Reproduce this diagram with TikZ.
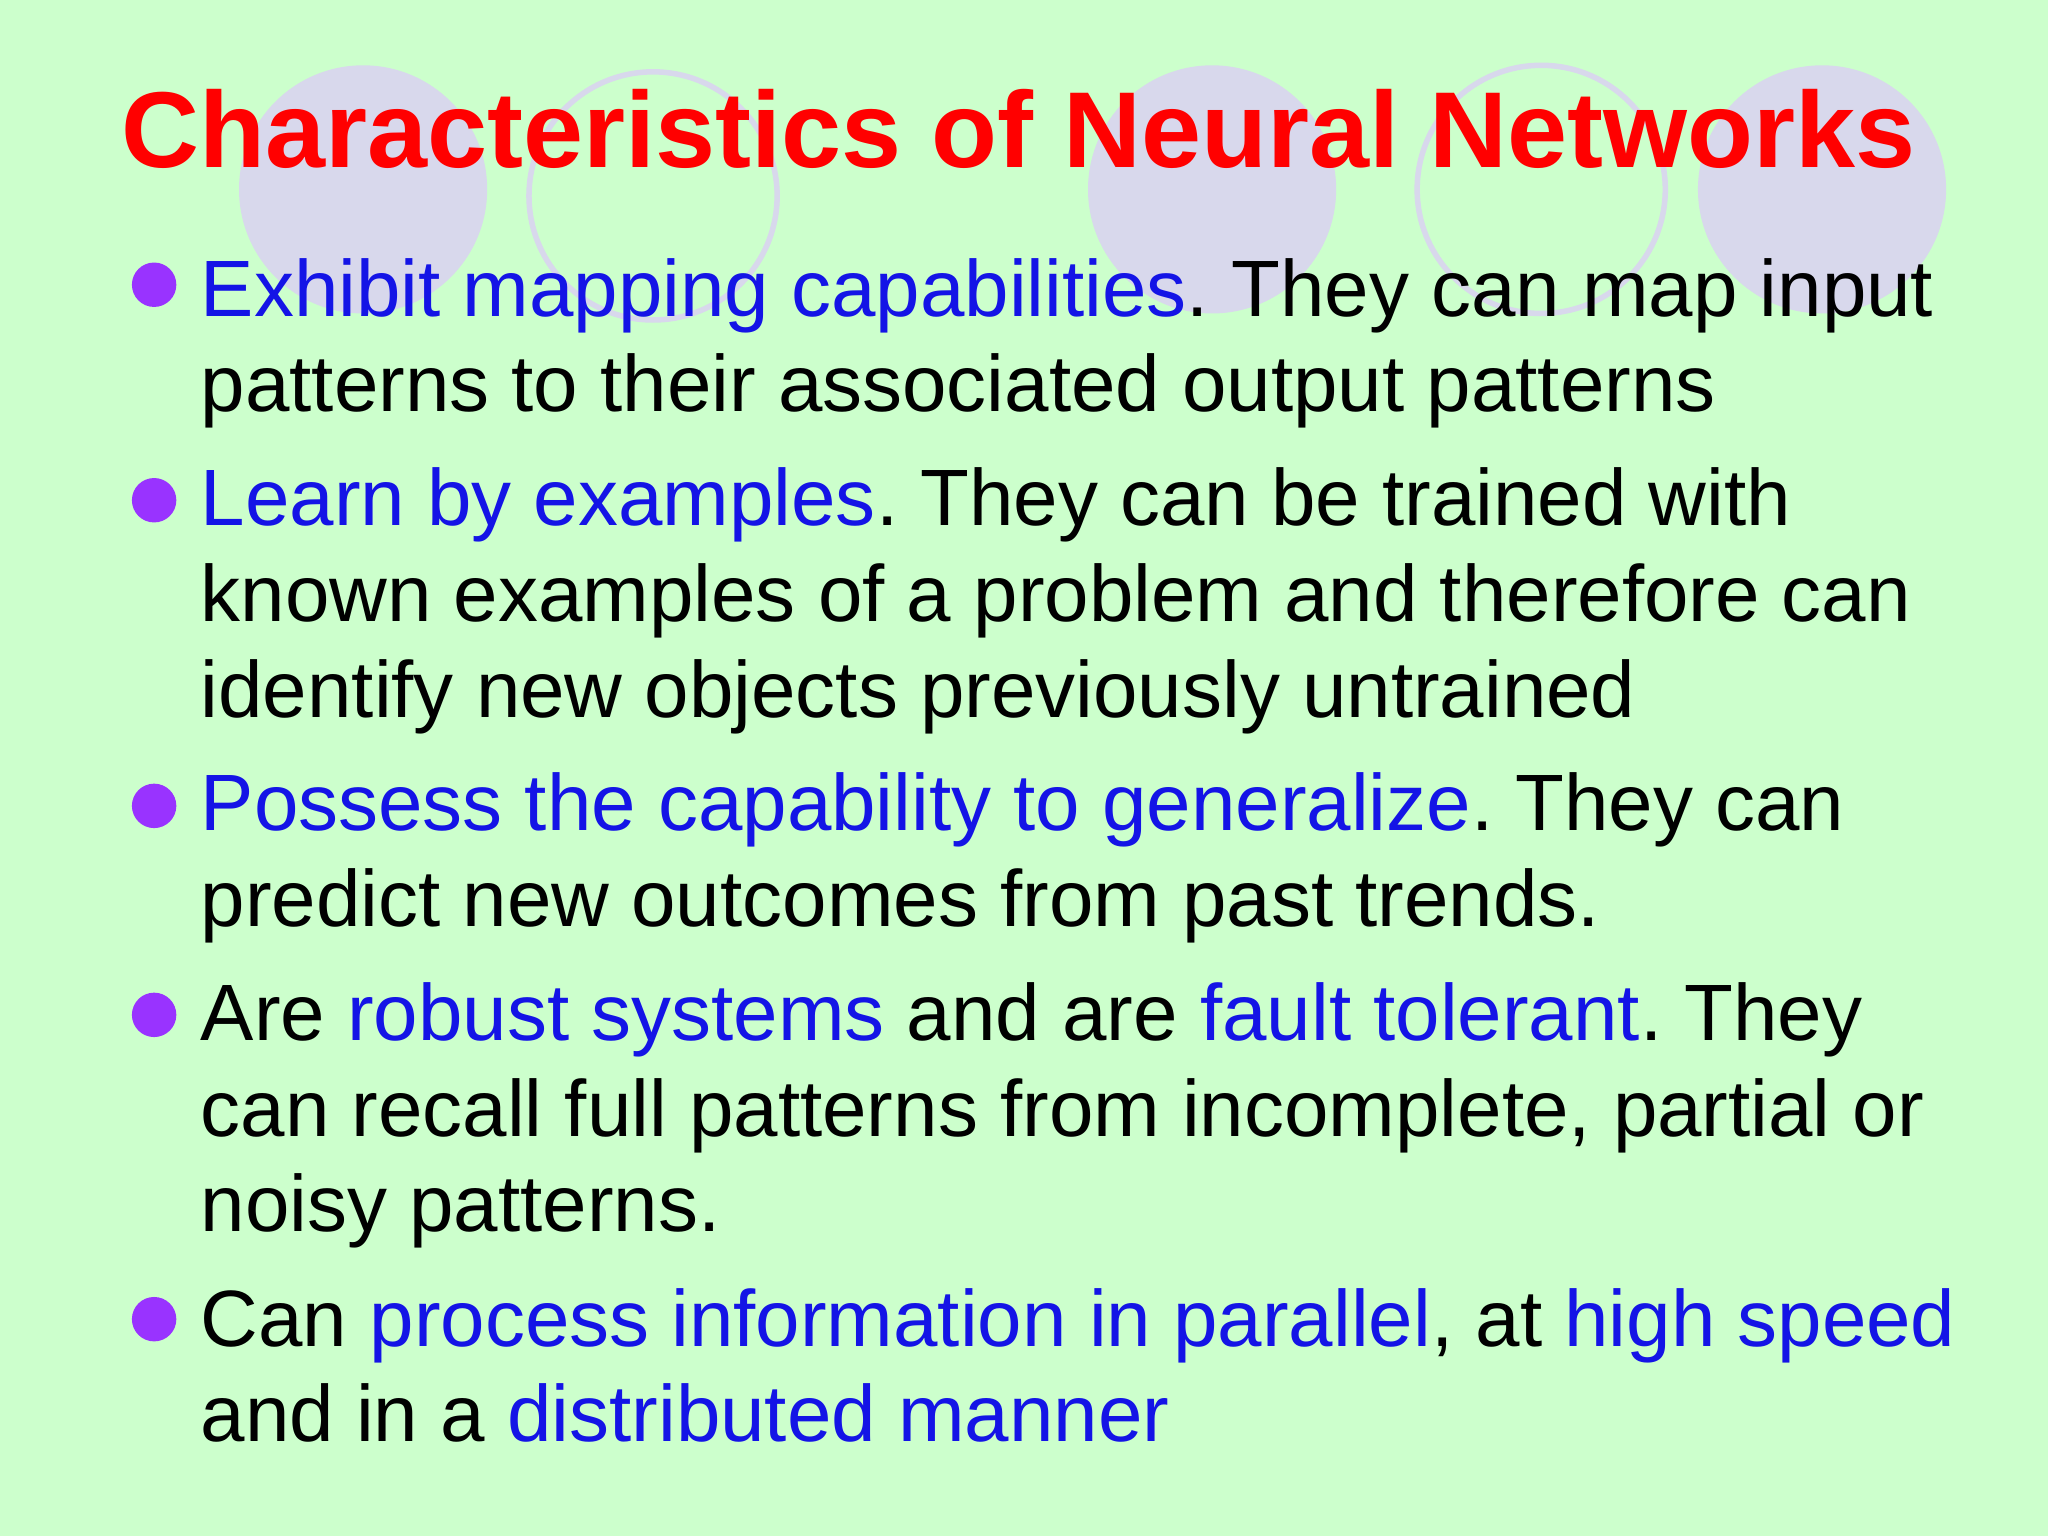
\documentclass[tikz,border=0pt]{standalone}
\usepackage{fontspec}
\setmainfont{Liberation Sans}
\frenchspacing
\definecolor{bg}{RGB}{204,255,204}
\definecolor{circ}{RGB}{216,216,236}
\definecolor{bul}{RGB}{153,51,255}
\definecolor{hl}{RGB}{20,20,230}
\definecolor{ttl}{RGB}{255,0,0}
\tikzset{ln/.style={anchor=base west,inner sep=0pt,font=\fontsize{17.4}{20}\selectfont},
 bulletdot/.style={circle,fill=bul,minimum size=0.34cm,inner sep=0pt},
 deco/.style={fill=circ},
 decoring/.style={draw=circ,line width=1.2pt}}
\newcommand{\hb}[1]{\textcolor{hl}{#1}}
\begin{document}
\begin{tikzpicture}[x=0.01cm,y=-0.01cm]
\fill[bg] (0,0) rectangle (1568,1176);
\useasboundingbox (0,0) rectangle (1568,1176);
\fill[deco] (278,145) circle (95);
\fill[deco] (928,145) circle (95);
\fill[deco] (1395,145) circle (95);
\draw[decoring] (500,150) circle (95);
\draw[decoring] (1180,145) circle (95);
\node[anchor=base,inner sep=0pt,font=\fontsize{23.5}{28}\selectfont\bfseries,text=ttl] (title) at (780,128) {Characteristics of Neural Networks};
\foreach \n/\y in {b1/218,b2/383,b3/617,b4/777,b5/1010} \node[bulletdot] (\n) at (118,\y) {};
\node[ln] (l1) at (153,242) {\hb{Exhibit mapping capabilities}. They can map input};
\node[ln] (l2) at (153,315) {patterns to their associated output patterns};
\node[ln] (l3) at (153,402) {\hb{Learn by examples}. They can be trained with};
\node[ln] (l4) at (153,476) {known examples of a problem and therefore can};
\node[ln] (l5) at (153,549) {identify new objects previously untrained};
\node[ln] (l6) at (153,636) {\hb{Possess the capability to generalize}. They can};
\node[ln] (l7) at (153,709) {predict new outcomes from past trends.};
\node[ln] (l8) at (153,797) {Are \hb{robust systems} and are \hb{fault tolerant}. They};
\node[ln] (l9) at (153,870) {can recall full patterns from incomplete, partial or};
\node[ln] (l10) at (153,943) {noisy patterns.};
\node[ln] (l11) at (153,1031) {Can \hb{process information in parallel}, at \hb{high speed}};
\node[ln] (l12) at (153,1104) {and in a \hb{distributed manner}};
\end{tikzpicture}
\end{document}
